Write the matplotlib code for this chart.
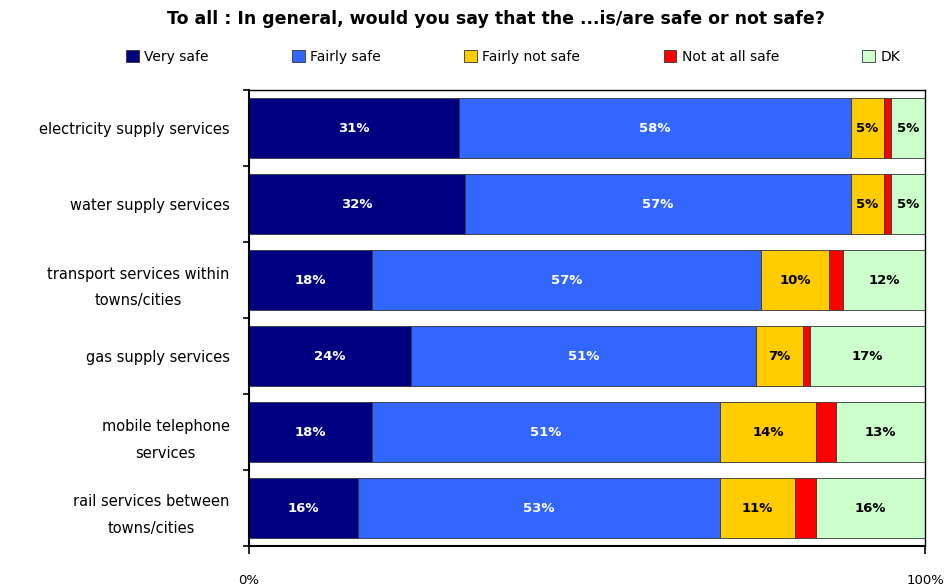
import numpy as np
import matplotlib.pyplot as plt
from matplotlib.patches import Patch

categories = [
    "electricity supply services",
    "water supply services",
    "transport services within\ntowns/cities",
    "gas supply services",
    "mobile telephone\nservices",
    "rail services between\ntowns/cities",
]
series_names = ["Very safe", "Fairly safe", "Fairly not safe", "Not at all safe", "DK"]
very_safe = [31, 32, 18, 24, 18, 16]
fairly_safe = [58, 57, 57, 51, 51, 53]
fairly_not_safe = [5, 5, 10, 7, 14, 11]
not_at_all_safe = [1, 1, 2, 1, 3, 3]
dont_know = [5, 5, 12, 17, 13, 16]

colors = ["#000080", "#3366FF", "#FFCC00", "#FF0000", "#CCFFCC"]
text_colors = ["white", "white", "black", None, "black"]

data = np.array([very_safe, fairly_safe, fairly_not_safe, not_at_all_safe, dont_know], dtype=float)
# 100% stacked: each row is scaled to its own total
shares = data / data.sum(axis=0) * 100

fig = plt.figure(figsize=(9.47, 5.86), dpi=100)
ax = fig.add_axes([249 / 947, 1 - 546 / 586, 676 / 947, 456 / 586])

y = np.arange(len(categories))
left = np.zeros(len(categories))
for i, name in enumerate(series_names):
    bars = ax.barh(y, shares[i], left=left, height=0.78, color=colors[i],
                   edgecolor="#333333", linewidth=0.6, label=name)
    if text_colors[i] is not None:
        for bar, val in zip(bars, data[i]):
            ax.text(bar.get_x() + bar.get_width() / 2, bar.get_y() + bar.get_height() / 2,
                    "%d%%" % val, ha="center", va="center", fontsize=9.5,
                    fontweight="bold", color=text_colors[i])
    left += shares[i]

ax.set_xlim(0, 100)
ax.set_ylim(len(categories) - 0.5, -0.5)
ax.set_xticks([0, 100])
ax.set_xticklabels(["0%", "100%"], fontsize=9.5)
ax.tick_params(axis="x", direction="out", length=6, width=1.2, pad=14)

ax.set_yticks(y)
ax.set_yticklabels(categories, fontsize=10.5, ha="right", multialignment="center",
                   linespacing=2.0)
ax.tick_params(axis="y", which="major", length=0, pad=14)
ax.set_yticks(np.arange(len(categories) + 1) - 0.5, minor=True)
ax.tick_params(axis="y", which="minor", direction="out", length=4, width=1.2)

for side in ax.spines.values():
    side.set_linewidth(1.0)
ax.spines["left"].set_linewidth(1.5)
ax.spines["bottom"].set_linewidth(1.5)

fig.text(0.524, 0.968, "To all : In general, would you say that the ...is/are safe or not safe?",
         ha="center", va="center", fontsize=12.5, fontweight="bold")

handles = [Patch(facecolor=c, edgecolor="#333333", linewidth=0.6) for c in colors]
fig.legend(handles, series_names, loc="center", bbox_to_anchor=(0.542, 0.903), ncol=5,
           frameon=False, fontsize=10, handlelength=0.9, handleheight=0.9,
           handletextpad=0.4, columnspacing=6.0)

fig.savefig("out.png", dpi=100)
